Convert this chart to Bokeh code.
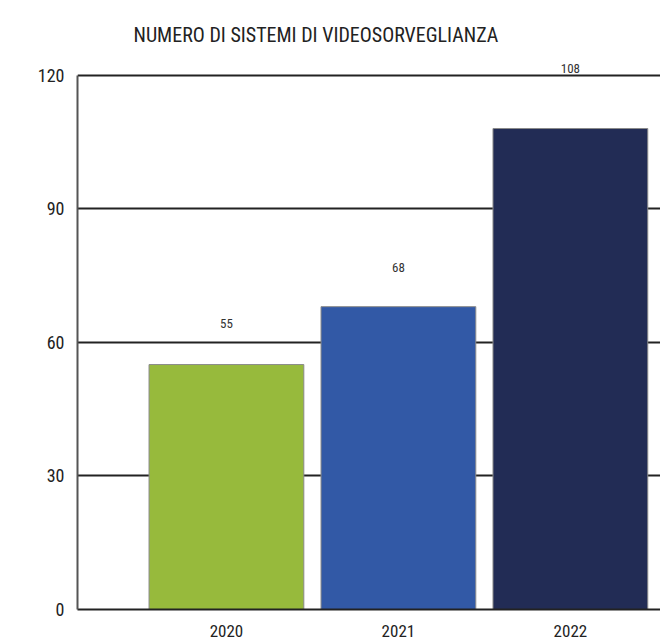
from bokeh.plotting import figure
from bokeh.models import ColumnDataSource, Range1d, FixedTicker
from bokeh.core.properties import value
from bokeh.embed import file_html
from bokeh.resources import INLINE

years = ["2020", "2021", "2022"]
counts = [55, 68, 108]
colors = ["#97BA3C", "#3259A6", "#222C55"]
y_ticks = [0, 30, 60, 90, 120]

FONT = "'Liberation Sans Narrow', 'Roboto Condensed', 'Noto Sans', sans-serif"

xs = list(range(len(years)))
label_offsets = [-37, -35, -56]
source = ColumnDataSource(dict(x=xs, top=counts, color=colors,
                               label=[str(c) for c in counts], off=label_offsets))

p = figure(width=660, height=639, output_backend="svg", toolbar_location=None,
           x_range=Range1d(-0.866, 2.524), y_range=Range1d(0, 123.5),
           min_border_left=77, min_border_right=0, min_border_top=59, min_border_bottom=28)

p.title.text = "NUMERO DI SISTEMI DI VIDEOSORVEGLIANZA"
p.title.align = "left"
p.title.offset = 56
p.title.standoff = 25
p.title.text_font = FONT
p.title.text_font_size = "20px"
p.title.text_font_style = "normal"
p.title.text_color = "#222222"

p.vbar(x="x", top="top", width=0.9, bottom=0, source=source,
       fill_color="color", line_color="#8a8a8a", line_width=1)

p.text(x="x", y="top", text="label", source=source, y_offset="off",
       text_align="center", text_baseline="bottom",
       text_font=value(FONT), text_font_size="13px", text_color="#333333")

p.outline_line_color = None
p.background_fill_color = "white"

p.xgrid.grid_line_color = None
p.ygrid.ticker = FixedTicker(ticks=y_ticks)
p.ygrid.grid_line_color = "#222222"
p.ygrid.grid_line_width = 2
p.ygrid.bounds = (0, 120)

p.yaxis.ticker = FixedTicker(ticks=y_ticks)
p.yaxis.bounds = (0, 120)
p.yaxis.axis_line_color = "#555555"
p.yaxis.axis_line_width = 2
p.yaxis.major_tick_line_color = None
p.yaxis.minor_tick_line_color = None
p.yaxis.major_label_standoff = 7
p.yaxis.major_label_text_font = FONT
p.yaxis.major_label_text_font_size = "18px"
p.yaxis.major_label_text_color = "#222222"

p.xaxis.ticker = FixedTicker(ticks=xs)
p.xaxis.major_label_overrides = {i: y for i, y in zip(xs, years)}
p.xaxis.axis_line_color = "#222222"
p.xaxis.axis_line_width = 2
p.xaxis.major_tick_line_color = None
p.xaxis.minor_tick_line_color = None
p.xaxis.major_label_standoff = 9
p.xaxis.major_label_text_font = FONT
p.xaxis.major_label_text_font_size = "17px"
p.xaxis.major_label_text_color = "#222222"

open("out.html", "w").write(file_html(p, INLINE))
